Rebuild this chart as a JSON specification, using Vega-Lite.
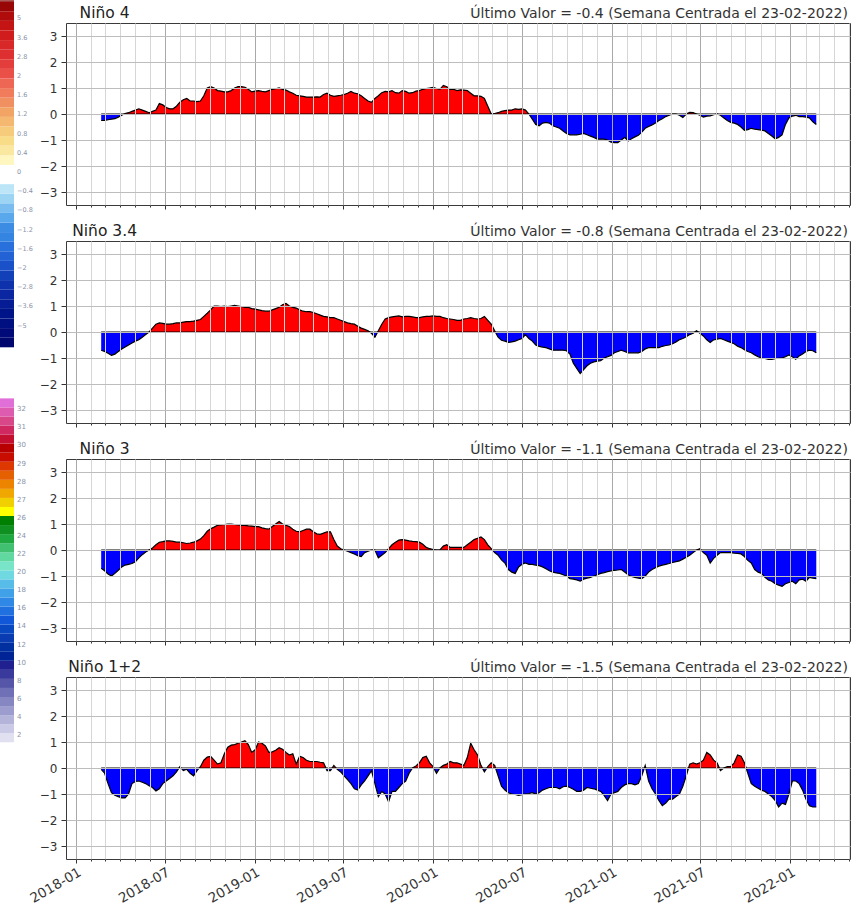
{
"$schema": "https://vega.github.io/schema/vega-lite/v6.json",
"padding": 0,
"background": "white",
"config": {"font": "DejaVu Sans", "view": {"stroke": null}},
"datasets": {
"sst": [
{"d":"2018-02-21","nino4":-0.25,"nino34":-0.7,"nino3":-0.7,"nino12":-0.05},
{"d":"2018-02-28","nino4":-0.25,"nino34":-0.75,"nino3":-0.8,"nino12":-0.2},
{"d":"2018-03-07","nino4":-0.22,"nino34":-0.82,"nino3":-0.92,"nino12":-0.6},
{"d":"2018-03-14","nino4":-0.2,"nino34":-0.9,"nino3":-1.0,"nino12":-0.95},
{"d":"2018-03-21","nino4":-0.18,"nino34":-0.85,"nino3":-0.9,"nino12":-1.05},
{"d":"2018-03-28","nino4":-0.12,"nino34":-0.75,"nino3":-0.78,"nino12":-1.1},
{"d":"2018-04-04","nino4":-0.05,"nino34":-0.65,"nino3":-0.65,"nino12":-1.15},
{"d":"2018-04-11","nino4":0.02,"nino34":-0.58,"nino3":-0.58,"nino12":-1.15},
{"d":"2018-04-18","nino4":0.05,"nino34":-0.5,"nino3":-0.55,"nino12":-1.0},
{"d":"2018-04-25","nino4":0.1,"nino34":-0.42,"nino3":-0.52,"nino12":-0.6},
{"d":"2018-05-02","nino4":0.15,"nino34":-0.35,"nino3":-0.45,"nino12":-0.52},
{"d":"2018-05-09","nino4":0.2,"nino34":-0.3,"nino3":-0.3,"nino12":-0.5},
{"d":"2018-05-16","nino4":0.15,"nino34":-0.2,"nino3":-0.18,"nino12":-0.55},
{"d":"2018-05-23","nino4":0.1,"nino34":-0.1,"nino3":-0.08,"nino12":-0.6},
{"d":"2018-05-30","nino4":0.05,"nino34":0.0,"nino3":0.0,"nino12":-0.68},
{"d":"2018-06-06","nino4":0.1,"nino34":0.15,"nino3":0.08,"nino12":-0.75},
{"d":"2018-06-13","nino4":0.15,"nino34":0.3,"nino3":0.2,"nino12":-0.88},
{"d":"2018-06-20","nino4":0.4,"nino34":0.35,"nino3":0.3,"nino12":-0.8},
{"d":"2018-06-27","nino4":0.35,"nino34":0.33,"nino3":0.32,"nino12":-0.6},
{"d":"2018-07-04","nino4":0.25,"nino34":0.3,"nino3":0.35,"nino12":-0.5},
{"d":"2018-07-11","nino4":0.2,"nino34":0.3,"nino3":0.35,"nino12":-0.4},
{"d":"2018-07-18","nino4":0.2,"nino34":0.32,"nino3":0.33,"nino12":-0.3},
{"d":"2018-07-25","nino4":0.3,"nino34":0.35,"nino3":0.3,"nino12":-0.15},
{"d":"2018-08-01","nino4":0.45,"nino34":0.35,"nino3":0.3,"nino12":0.05},
{"d":"2018-08-08","nino4":0.55,"nino34":0.38,"nino3":0.28,"nino12":-0.1},
{"d":"2018-08-15","nino4":0.6,"nino34":0.4,"nino3":0.25,"nino12":-0.05},
{"d":"2018-08-22","nino4":0.5,"nino34":0.4,"nino3":0.27,"nino12":-0.2},
{"d":"2018-08-29","nino4":0.5,"nino34":0.42,"nino3":0.3,"nino12":-0.3},
{"d":"2018-09-05","nino4":0.48,"nino34":0.45,"nino3":0.35,"nino12":-0.1},
{"d":"2018-09-12","nino4":0.5,"nino34":0.48,"nino3":0.42,"nino12":0.05},
{"d":"2018-09-19","nino4":0.7,"nino34":0.6,"nino3":0.55,"nino12":0.3},
{"d":"2018-09-26","nino4":1.0,"nino34":0.72,"nino3":0.72,"nino12":0.42},
{"d":"2018-10-03","nino4":1.05,"nino34":0.85,"nino3":0.82,"nino12":0.45},
{"d":"2018-10-10","nino4":1.0,"nino34":1.0,"nino3":0.88,"nino12":0.3},
{"d":"2018-10-17","nino4":0.9,"nino34":1.0,"nino3":0.95,"nino12":0.15},
{"d":"2018-10-24","nino4":0.88,"nino34":0.98,"nino3":0.97,"nino12":0.2},
{"d":"2018-10-31","nino4":0.85,"nino34":1.0,"nino3":0.98,"nino12":0.55},
{"d":"2018-11-07","nino4":0.85,"nino34":0.98,"nino3":1.0,"nino12":0.8},
{"d":"2018-11-14","nino4":0.9,"nino34":1.0,"nino3":1.0,"nino12":0.88},
{"d":"2018-11-21","nino4":1.0,"nino34":1.02,"nino3":0.98,"nino12":0.9},
{"d":"2018-11-28","nino4":1.05,"nino34":1.0,"nino3":0.97,"nino12":0.95},
{"d":"2018-12-05","nino4":1.05,"nino34":0.98,"nino3":0.95,"nino12":1.0},
{"d":"2018-12-12","nino4":1.03,"nino34":0.95,"nino3":0.95,"nino12":1.05},
{"d":"2018-12-19","nino4":0.95,"nino34":0.95,"nino3":0.93,"nino12":0.9},
{"d":"2018-12-26","nino4":0.85,"nino34":0.9,"nino3":0.92,"nino12":0.6},
{"d":"2019-01-02","nino4":0.88,"nino34":0.88,"nino3":0.9,"nino12":0.7},
{"d":"2019-01-09","nino4":0.9,"nino34":0.85,"nino3":0.9,"nino12":1.0},
{"d":"2019-01-16","nino4":0.87,"nino34":0.82,"nino3":0.85,"nino12":0.95},
{"d":"2019-01-23","nino4":0.85,"nino34":0.8,"nino3":0.82,"nino12":0.85},
{"d":"2019-01-30","nino4":0.9,"nino34":0.8,"nino3":0.8,"nino12":0.6},
{"d":"2019-02-06","nino4":0.95,"nino34":0.85,"nino3":0.9,"nino12":0.62},
{"d":"2019-02-13","nino4":0.97,"nino34":0.9,"nino3":1.0,"nino12":0.68},
{"d":"2019-02-20","nino4":1.0,"nino34":0.95,"nino3":1.1,"nino12":0.78},
{"d":"2019-02-27","nino4":0.95,"nino34":1.05,"nino3":1.0,"nino12":0.72},
{"d":"2019-03-06","nino4":0.92,"nino34":1.1,"nino3":0.95,"nino12":0.6},
{"d":"2019-03-13","nino4":0.85,"nino34":1.0,"nino3":0.9,"nino12":0.5},
{"d":"2019-03-20","nino4":0.8,"nino34":0.95,"nino3":0.8,"nino12":0.55},
{"d":"2019-03-27","nino4":0.72,"nino34":0.92,"nino3":0.72,"nino12":0.15},
{"d":"2019-04-03","nino4":0.7,"nino34":0.85,"nino3":0.7,"nino12":0.45},
{"d":"2019-04-10","nino4":0.68,"nino34":0.8,"nino3":0.75,"nino12":0.4},
{"d":"2019-04-17","nino4":0.65,"nino34":0.78,"nino3":0.8,"nino12":0.3},
{"d":"2019-04-24","nino4":0.65,"nino34":0.78,"nino3":0.8,"nino12":0.25},
{"d":"2019-05-01","nino4":0.65,"nino34":0.75,"nino3":0.7,"nino12":0.25},
{"d":"2019-05-08","nino4":0.66,"nino34":0.7,"nino3":0.62,"nino12":0.25},
{"d":"2019-05-15","nino4":0.65,"nino34":0.65,"nino3":0.6,"nino12":0.22},
{"d":"2019-05-22","nino4":0.75,"nino34":0.6,"nino3":0.65,"nino12":0.2},
{"d":"2019-05-29","nino4":0.8,"nino34":0.58,"nino3":0.7,"nino12":-0.1},
{"d":"2019-06-05","nino4":0.72,"nino34":0.55,"nino3":0.7,"nino12":-0.1},
{"d":"2019-06-12","nino4":0.68,"nino34":0.55,"nino3":0.4,"nino12":0.1},
{"d":"2019-06-19","nino4":0.7,"nino34":0.5,"nino3":0.15,"nino12":-0.05},
{"d":"2019-06-26","nino4":0.72,"nino34":0.45,"nino3":0.05,"nino12":-0.15},
{"d":"2019-07-03","nino4":0.75,"nino34":0.4,"nino3":0.0,"nino12":-0.3},
{"d":"2019-07-10","nino4":0.8,"nino34":0.35,"nino3":-0.05,"nino12":-0.45},
{"d":"2019-07-17","nino4":0.87,"nino34":0.32,"nino3":-0.1,"nino12":-0.6},
{"d":"2019-07-24","nino4":0.8,"nino34":0.3,"nino3":-0.15,"nino12":-0.8},
{"d":"2019-07-31","nino4":0.78,"nino34":0.22,"nino3":-0.22,"nino12":-0.85},
{"d":"2019-08-07","nino4":0.7,"nino34":0.15,"nino3":-0.25,"nino12":-0.65},
{"d":"2019-08-14","nino4":0.6,"nino34":0.1,"nino3":-0.1,"nino12":-0.5},
{"d":"2019-08-21","nino4":0.5,"nino34":0.05,"nino3":-0.05,"nino12":-0.3},
{"d":"2019-08-28","nino4":0.45,"nino34":-0.05,"nino3":0.0,"nino12":-0.1},
{"d":"2019-09-04","nino4":0.6,"nino34":-0.2,"nino3":0.0,"nino12":-0.6},
{"d":"2019-09-11","nino4":0.7,"nino34":0.05,"nino3":-0.3,"nino12":-1.1},
{"d":"2019-09-18","nino4":0.82,"nino34":0.3,"nino3":-0.2,"nino12":-0.9},
{"d":"2019-09-25","nino4":0.87,"nino34":0.5,"nino3":-0.1,"nino12":-1.0},
{"d":"2019-10-02","nino4":0.85,"nino34":0.55,"nino3":0.05,"nino12":-1.3},
{"d":"2019-10-09","nino4":0.9,"nino34":0.58,"nino3":0.2,"nino12":-0.9},
{"d":"2019-10-16","nino4":0.82,"nino34":0.6,"nino3":0.3,"nino12":-0.9},
{"d":"2019-10-23","nino4":0.8,"nino34":0.62,"nino3":0.38,"nino12":-0.75},
{"d":"2019-10-30","nino4":0.9,"nino34":0.58,"nino3":0.4,"nino12":-0.6},
{"d":"2019-11-06","nino4":0.87,"nino34":0.6,"nino3":0.38,"nino12":-0.5},
{"d":"2019-11-13","nino4":0.8,"nino34":0.6,"nino3":0.35,"nino12":-0.2},
{"d":"2019-11-20","nino4":0.82,"nino34":0.58,"nino3":0.33,"nino12":0.0},
{"d":"2019-11-27","nino4":0.88,"nino34":0.55,"nino3":0.32,"nino12":0.08},
{"d":"2019-12-04","nino4":0.9,"nino34":0.55,"nino3":0.3,"nino12":0.2},
{"d":"2019-12-11","nino4":0.95,"nino34":0.58,"nino3":0.22,"nino12":0.4},
{"d":"2019-12-18","nino4":0.98,"nino34":0.6,"nino3":0.1,"nino12":0.45},
{"d":"2019-12-25","nino4":1.0,"nino34":0.6,"nino3":0.05,"nino12":0.2},
{"d":"2020-01-01","nino4":1.02,"nino34":0.62,"nino3":0.02,"nino12":0.05},
{"d":"2020-01-08","nino4":0.98,"nino34":0.6,"nino3":0.0,"nino12":-0.2},
{"d":"2020-01-15","nino4":0.95,"nino34":0.6,"nino3":0.0,"nino12":0.0},
{"d":"2020-01-22","nino4":1.1,"nino34":0.55,"nino3":0.15,"nino12":0.1},
{"d":"2020-01-29","nino4":1.05,"nino34":0.52,"nino3":0.2,"nino12":0.15},
{"d":"2020-02-05","nino4":0.95,"nino34":0.5,"nino3":0.1,"nino12":0.25},
{"d":"2020-02-12","nino4":0.95,"nino34":0.48,"nino3":0.1,"nino12":0.2},
{"d":"2020-02-19","nino4":0.9,"nino34":0.45,"nino3":0.1,"nino12":0.2},
{"d":"2020-02-26","nino4":0.93,"nino34":0.45,"nino3":0.1,"nino12":0.15},
{"d":"2020-03-04","nino4":0.92,"nino34":0.5,"nino3":0.1,"nino12":0.1},
{"d":"2020-03-11","nino4":0.9,"nino34":0.52,"nino3":0.2,"nino12":0.4},
{"d":"2020-03-18","nino4":0.8,"nino34":0.55,"nino3":0.3,"nino12":0.95},
{"d":"2020-03-25","nino4":0.7,"nino34":0.52,"nino3":0.4,"nino12":0.7},
{"d":"2020-04-01","nino4":0.7,"nino34":0.5,"nino3":0.45,"nino12":0.5},
{"d":"2020-04-08","nino4":0.68,"nino34":0.52,"nino3":0.5,"nino12":0.1},
{"d":"2020-04-15","nino4":0.6,"nino34":0.6,"nino3":0.4,"nino12":-0.15},
{"d":"2020-04-22","nino4":0.3,"nino34":0.45,"nino3":0.2,"nino12":0.05},
{"d":"2020-04-29","nino4":0.0,"nino34":0.3,"nino3":0.05,"nino12":0.2},
{"d":"2020-05-06","nino4":0.02,"nino34":0.05,"nino3":-0.1,"nino12":0.1},
{"d":"2020-05-13","nino4":0.05,"nino34":-0.2,"nino3":-0.2,"nino12":-0.3},
{"d":"2020-05-20","nino4":0.1,"nino34":-0.32,"nino3":-0.38,"nino12":-0.7},
{"d":"2020-05-27","nino4":0.13,"nino34":-0.35,"nino3":-0.5,"nino12":-0.85},
{"d":"2020-06-03","nino4":0.15,"nino34":-0.4,"nino3":-0.75,"nino12":-0.95},
{"d":"2020-06-10","nino4":0.15,"nino34":-0.38,"nino3":-0.85,"nino12":-1.0},
{"d":"2020-06-17","nino4":0.2,"nino34":-0.35,"nino3":-0.9,"nino12":-1.02},
{"d":"2020-06-24","nino4":0.18,"nino34":-0.3,"nino3":-0.65,"nino12":-1.05},
{"d":"2020-07-01","nino4":0.2,"nino34":-0.25,"nino3":-0.55,"nino12":-1.03},
{"d":"2020-07-08","nino4":0.15,"nino34":-0.1,"nino3":-0.5,"nino12":-1.0},
{"d":"2020-07-15","nino4":0.0,"nino34":-0.25,"nino3":-0.55,"nino12":-0.98},
{"d":"2020-07-22","nino4":-0.2,"nino34":-0.35,"nino3":-0.55,"nino12":-0.95},
{"d":"2020-07-29","nino4":-0.4,"nino34":-0.5,"nino3":-0.58,"nino12":-1.0},
{"d":"2020-08-05","nino4":-0.45,"nino34":-0.55,"nino3":-0.6,"nino12":-0.95},
{"d":"2020-08-12","nino4":-0.35,"nino34":-0.58,"nino3":-0.65,"nino12":-0.85},
{"d":"2020-08-19","nino4":-0.32,"nino34":-0.6,"nino3":-0.72,"nino12":-0.8},
{"d":"2020-08-26","nino4":-0.35,"nino34":-0.65,"nino3":-0.8,"nino12":-0.75},
{"d":"2020-09-02","nino4":-0.45,"nino34":-0.7,"nino3":-0.85,"nino12":-0.75},
{"d":"2020-09-09","nino4":-0.5,"nino34":-0.7,"nino3":-0.88,"nino12":-0.75},
{"d":"2020-09-16","nino4":-0.55,"nino34":-0.7,"nino3":-0.9,"nino12":-0.8},
{"d":"2020-09-23","nino4":-0.65,"nino34":-0.7,"nino3":-0.95,"nino12":-0.72},
{"d":"2020-09-30","nino4":-0.75,"nino34":-0.72,"nino3":-1.0,"nino12":-0.7},
{"d":"2020-10-07","nino4":-0.8,"nino34":-0.85,"nino3":-1.1,"nino12":-0.75},
{"d":"2020-10-14","nino4":-0.8,"nino34":-1.2,"nino3":-1.12,"nino12":-0.82},
{"d":"2020-10-21","nino4":-0.8,"nino34":-1.4,"nino3":-1.15,"nino12":-0.9},
{"d":"2020-10-28","nino4":-0.78,"nino34":-1.6,"nino3":-1.2,"nino12":-0.9},
{"d":"2020-11-04","nino4":-0.75,"nino34":-1.45,"nino3":-1.12,"nino12":-0.85},
{"d":"2020-11-11","nino4":-0.8,"nino34":-1.3,"nino3":-1.08,"nino12":-0.75},
{"d":"2020-11-18","nino4":-0.85,"nino34":-1.2,"nino3":-1.05,"nino12":-0.78},
{"d":"2020-11-25","nino4":-0.9,"nino34":-1.15,"nino3":-1.0,"nino12":-0.8},
{"d":"2020-12-02","nino4":-0.97,"nino34":-1.12,"nino3":-0.95,"nino12":-0.85},
{"d":"2020-12-09","nino4":-0.97,"nino34":-1.1,"nino3":-0.9,"nino12":-0.9},
{"d":"2020-12-16","nino4":-0.97,"nino34":-1.0,"nino3":-0.87,"nino12":-1.05},
{"d":"2020-12-23","nino4":-1.0,"nino34":-0.95,"nino3":-0.83,"nino12":-1.25},
{"d":"2020-12-30","nino4":-1.08,"nino34":-0.9,"nino3":-0.8,"nino12":-1.0},
{"d":"2021-01-06","nino4":-1.1,"nino34":-0.8,"nino3":-0.78,"nino12":-0.95},
{"d":"2021-01-13","nino4":-1.1,"nino34":-0.75,"nino3":-0.77,"nino12":-0.9},
{"d":"2021-01-20","nino4":-1.0,"nino34":-0.7,"nino3":-0.75,"nino12":-0.75},
{"d":"2021-01-27","nino4":-0.9,"nino34":-0.75,"nino3":-0.85,"nino12":-0.65},
{"d":"2021-02-03","nino4":-1.04,"nino34":-0.8,"nino3":-0.95,"nino12":-0.6},
{"d":"2021-02-10","nino4":-0.95,"nino34":-0.8,"nino3":-1.02,"nino12":-0.6},
{"d":"2021-02-17","nino4":-0.88,"nino34":-0.8,"nino3":-1.05,"nino12":-0.65},
{"d":"2021-02-24","nino4":-0.82,"nino34":-0.8,"nino3":-1.08,"nino12":-0.6},
{"d":"2021-03-03","nino4":-0.7,"nino34":-0.75,"nino3":-1.1,"nino12":-0.3},
{"d":"2021-03-10","nino4":-0.55,"nino34":-0.65,"nino3":-1.0,"nino12":0.1},
{"d":"2021-03-17","nino4":-0.48,"nino34":-0.6,"nino3":-0.85,"nino12":-0.5},
{"d":"2021-03-24","nino4":-0.42,"nino34":-0.6,"nino3":-0.75,"nino12":-0.8},
{"d":"2021-03-31","nino4":-0.35,"nino34":-0.6,"nino3":-0.68,"nino12":-1.0},
{"d":"2021-04-07","nino4":-0.25,"nino34":-0.6,"nino3":-0.62,"nino12":-1.25},
{"d":"2021-04-14","nino4":-0.18,"nino34":-0.55,"nino3":-0.58,"nino12":-1.45},
{"d":"2021-04-21","nino4":-0.1,"nino34":-0.52,"nino3":-0.55,"nino12":-1.35},
{"d":"2021-04-28","nino4":-0.05,"nino34":-0.5,"nino3":-0.52,"nino12":-1.2},
{"d":"2021-05-05","nino4":0.0,"nino34":-0.45,"nino3":-0.48,"nino12":-1.2},
{"d":"2021-05-12","nino4":0.0,"nino34":-0.38,"nino3":-0.45,"nino12":-1.1},
{"d":"2021-05-19","nino4":-0.05,"nino34":-0.3,"nino3":-0.42,"nino12":-1.0},
{"d":"2021-05-26","nino4":-0.13,"nino34":-0.25,"nino3":-0.35,"nino12":-0.7},
{"d":"2021-06-02","nino4":0.0,"nino34":-0.18,"nino3":-0.28,"nino12":-0.3},
{"d":"2021-06-09","nino4":0.06,"nino34":-0.1,"nino3":-0.2,"nino12":0.15},
{"d":"2021-06-16","nino4":0.05,"nino34":-0.05,"nino3":-0.1,"nino12":0.2},
{"d":"2021-06-23","nino4":0.0,"nino34":0.05,"nino3":0.0,"nino12":0.15},
{"d":"2021-06-30","nino4":-0.05,"nino34":-0.05,"nino3":0.05,"nino12":0.2},
{"d":"2021-07-07","nino4":-0.12,"nino34":-0.15,"nino3":-0.1,"nino12":0.3},
{"d":"2021-07-14","nino4":-0.08,"nino34":-0.3,"nino3":-0.2,"nino12":0.6},
{"d":"2021-07-21","nino4":-0.07,"nino34":-0.4,"nino3":-0.5,"nino12":0.5},
{"d":"2021-07-28","nino4":-0.03,"nino34":-0.3,"nino3":-0.32,"nino12":0.3},
{"d":"2021-08-04","nino4":0.0,"nino34":-0.28,"nino3":-0.2,"nino12":0.2},
{"d":"2021-08-11","nino4":-0.05,"nino34":-0.25,"nino3":-0.1,"nino12":-0.1},
{"d":"2021-08-18","nino4":-0.15,"nino34":-0.3,"nino3":-0.1,"nino12":0.0},
{"d":"2021-08-25","nino4":-0.25,"nino34":-0.35,"nino3":-0.1,"nino12":0.05},
{"d":"2021-09-01","nino4":-0.32,"nino34":-0.4,"nino3":-0.1,"nino12":0.05},
{"d":"2021-09-08","nino4":-0.35,"nino34":-0.45,"nino3":-0.12,"nino12":0.2},
{"d":"2021-09-15","nino4":-0.4,"nino34":-0.55,"nino3":-0.13,"nino12":0.5},
{"d":"2021-09-22","nino4":-0.5,"nino34":-0.6,"nino3":-0.15,"nino12":0.45},
{"d":"2021-09-29","nino4":-0.63,"nino34":-0.68,"nino3":-0.25,"nino12":0.2},
{"d":"2021-10-06","nino4":-0.6,"nino34":-0.75,"nino3":-0.4,"nino12":-0.2},
{"d":"2021-10-13","nino4":-0.55,"nino34":-0.8,"nino3":-0.5,"nino12":-0.6},
{"d":"2021-10-20","nino4":-0.58,"nino34":-0.88,"nino3":-0.75,"nino12":-0.7},
{"d":"2021-10-27","nino4":-0.6,"nino34":-0.95,"nino3":-0.85,"nino12":-0.78},
{"d":"2021-11-03","nino4":-0.62,"nino34":-1.0,"nino3":-0.9,"nino12":-0.85},
{"d":"2021-11-10","nino4":-0.65,"nino34":-1.02,"nino3":-1.05,"nino12":-0.9},
{"d":"2021-11-17","nino4":-0.75,"nino34":-1.05,"nino3":-1.15,"nino12":-1.0},
{"d":"2021-11-24","nino4":-0.85,"nino34":-1.05,"nino3":-1.2,"nino12":-1.1},
{"d":"2021-12-01","nino4":-0.95,"nino34":-1.03,"nino3":-1.3,"nino12":-1.25},
{"d":"2021-12-08","nino4":-0.9,"nino34":-1.0,"nino3":-1.35,"nino12":-1.5},
{"d":"2021-12-15","nino4":-0.8,"nino34":-1.0,"nino3":-1.4,"nino12":-1.35},
{"d":"2021-12-22","nino4":-0.4,"nino34":-0.95,"nino3":-1.3,"nino12":-1.4},
{"d":"2021-12-29","nino4":-0.15,"nino34":-0.88,"nino3":-1.25,"nino12":-1.0},
{"d":"2022-01-05","nino4":-0.08,"nino34":-0.95,"nino3":-1.2,"nino12":-0.5},
{"d":"2022-01-12","nino4":-0.05,"nino34":-1.05,"nino3":-1.3,"nino12":-0.5},
{"d":"2022-01-19","nino4":-0.1,"nino34":-0.92,"nino3":-1.15,"nino12":-0.6},
{"d":"2022-01-26","nino4":-0.1,"nino34":-0.85,"nino3":-1.12,"nino12":-0.85},
{"d":"2022-02-02","nino4":-0.12,"nino34":-0.75,"nino3":-1.2,"nino12":-1.2},
{"d":"2022-02-09","nino4":-0.15,"nino34":-0.7,"nino3":-1.05,"nino12":-1.45},
{"d":"2022-02-16","nino4":-0.3,"nino34":-0.72,"nino3":-1.08,"nino12":-1.5},
{"d":"2022-02-23","nino4":-0.4,"nino34":-0.8,"nino3":-1.1,"nino12":-1.5}
],
"cbA": [
{"i":0,"lo":0,"hi":1},{"i":1,"lo":1,"hi":2},{"i":2,"lo":2,"hi":3},{"i":3,"lo":3,"hi":4},{"i":4,"lo":4,"hi":5},{"i":5,"lo":5,"hi":6},{"i":6,"lo":6,"hi":7},{"i":7,"lo":7,"hi":8},{"i":8,"lo":8,"hi":9},{"i":9,"lo":9,"hi":10},
{"i":10,"lo":10,"hi":11},{"i":11,"lo":11,"hi":12},{"i":12,"lo":12,"hi":13},{"i":13,"lo":13,"hi":14},{"i":14,"lo":14,"hi":15},{"i":15,"lo":15,"hi":16},{"i":16,"lo":16,"hi":17},{"i":17,"lo":17,"hi":18},{"i":18,"lo":18,"hi":19},{"i":19,"lo":19,"hi":20},
{"i":20,"lo":20,"hi":21},{"i":21,"lo":21,"hi":22},{"i":22,"lo":22,"hi":23},{"i":23,"lo":23,"hi":24},{"i":24,"lo":24,"hi":25},{"i":25,"lo":25,"hi":26},{"i":26,"lo":26,"hi":27},{"i":27,"lo":27,"hi":28},{"i":28,"lo":28,"hi":29},{"i":29,"lo":29,"hi":30},
{"i":30,"lo":30,"hi":31},{"i":31,"lo":31,"hi":32},{"i":32,"lo":32,"hi":33},{"i":33,"lo":33,"hi":34},{"i":34,"lo":34,"hi":35},{"i":35,"lo":35,"hi":36},{"i":36,"lo":36,"hi":36.14}
],
"labA": [
{"p":2.25,"t":"−5"},{"p":4.25,"t":"−3.6"},{"p":6.25,"t":"−2.8"},{"p":8.25,"t":"−2"},{"p":10.25,"t":"−1.6"},{"p":12.25,"t":"−1.2"},{"p":14.25,"t":"−0.8"},{"p":16.25,"t":"−0.4"},{"p":18.25,"t":"0"},{"p":20.25,"t":"0.4"},{"p":22.25,"t":"0.8"},{"p":24.25,"t":"1.2"},{"p":26.25,"t":"1.6"},{"p":28.25,"t":"2"},{"p":30.25,"t":"2.8"},{"p":32.25,"t":"3.6"},{"p":34.25,"t":"5"}
],
"cbB": [
{"j":0,"lo":0,"hi":1},{"j":1,"lo":1,"hi":2},{"j":2,"lo":2,"hi":3},{"j":3,"lo":3,"hi":4},{"j":4,"lo":4,"hi":5},{"j":5,"lo":5,"hi":6},{"j":6,"lo":6,"hi":7},{"j":7,"lo":7,"hi":8},{"j":8,"lo":8,"hi":9},{"j":9,"lo":9,"hi":10},
{"j":10,"lo":10,"hi":11},{"j":11,"lo":11,"hi":12},{"j":12,"lo":12,"hi":13},{"j":13,"lo":13,"hi":14},{"j":14,"lo":14,"hi":15},{"j":15,"lo":15,"hi":16},{"j":16,"lo":16,"hi":17},{"j":17,"lo":17,"hi":18},{"j":18,"lo":18,"hi":19},{"j":19,"lo":19,"hi":20},
{"j":20,"lo":20,"hi":21},{"j":21,"lo":21,"hi":22},{"j":22,"lo":22,"hi":23},{"j":23,"lo":23,"hi":24},{"j":24,"lo":24,"hi":25},{"j":25,"lo":25,"hi":26},{"j":26,"lo":26,"hi":27},{"j":27,"lo":27,"hi":28},{"j":28,"lo":28,"hi":29},{"j":29,"lo":29,"hi":30},
{"j":30,"lo":30,"hi":31},{"j":31,"lo":31,"hi":32},{"j":32,"lo":32,"hi":33},{"j":33,"lo":33,"hi":34},{"j":34,"lo":34,"hi":35},{"j":35,"lo":35,"hi":36},{"j":36,"lo":36,"hi":37},{"j":37,"lo":37,"hi":38}
],
"labB": [
{"p":0.8,"t":"2"},{"p":2.8,"t":"4"},{"p":4.8,"t":"6"},{"p":6.8,"t":"8"},{"p":8.8,"t":"10"},{"p":10.8,"t":"12"},{"p":12.8,"t":"14"},{"p":14.8,"t":"16"},{"p":16.8,"t":"18"},{"p":18.8,"t":"20"},{"p":20.8,"t":"22"},{"p":22.8,"t":"24"},{"p":24.8,"t":"26"},{"p":26.8,"t":"27"},{"p":28.8,"t":"28"},{"p":30.8,"t":"29"},{"p":32.8,"t":"30"},{"p":34.8,"t":"31"},{"p":36.8,"t":"32"}
],
"heads": [
{"k":"Niño 4","t":"Último Valor = -0.4 (Semana Centrada el 23-02-2022)"},
{"k":"Niño 3.4","t":"Último Valor = -0.8 (Semana Centrada el 23-02-2022)"},
{"k":"Niño 3","t":"Último Valor = -1.1 (Semana Centrada el 23-02-2022)"},
{"k":"Niño 1+2","t":"Último Valor = -1.5 (Semana Centrada el 23-02-2022)"}
],
"span": [{"s": "2018-02-21", "e": "2022-02-23"}]
},
"bounds": "flush",
"spacing": 52,
"hconcat": [
{
"width": 14,
"height": 836,
"layer": [
{"data": {"name": "cbA"}, "mark": {"type": "rect"}, "encoding": {
"x": {"datum": 0, "type": "quantitative", "scale": {"domain": [0, 1], "nice": false, "zero": false}, "axis": null},
"x2": {"datum": 1},
"y": {"field": "lo", "type": "quantitative", "scale": {"domain": [-53.3, 33.78], "nice": false, "zero": false}, "axis": null},
"y2": {"field": "hi"},
"color": {"field": "i", "type": "ordinal", "legend": null, "scale": {"range": ["#00086e","#000a78","#001080","#00148a","#061c94","#0a26a0","#0e32ac","#1240b8","#1a50c8","#2262d4","#2870dc","#3484e2","#3c8ce4","#5aa8ec","#78bcf0","#9cd4f4","#bce6f8","#ffffff","#ffffff","#fff6c0","#fae8a0","#f8dc88","#f6cc7c","#f4b870","#f2a464","#f09060","#f07c5c","#ee6654","#ea5048","#e43e3c","#de3030","#d82828","#d01c1c","#c41414","#b00c0c","#980606","#800000"]}}}},
{"data": {"name": "labA"}, "mark": {"type": "text", "align": "left", "baseline": "middle", "dx": 3, "fontSize": 6.5, "color": "#8a93a8"}, "encoding": {
"x": {"datum": 1, "type": "quantitative"},
"y": {"field": "p", "type": "quantitative", "scale": {"domain": [-53.3, 33.78], "nice": false, "zero": false}, "axis": null},
"text": {"field": "t"}}},
{"data": {"name": "cbB"}, "mark": {"type": "rect"}, "encoding": {
"x": {"datum": 0, "type": "quantitative"},
"x2": {"datum": 1},
"y": {"field": "lo", "type": "quantitative", "scale": {"domain": [-12.9, 79.48], "nice": false, "zero": false}, "axis": null},
"y2": {"field": "hi"},
"color": {"field": "j", "type": "ordinal", "legend": null, "scale": {"range": ["#e0e0f0","#cacae6","#b4b4da","#9c9cce","#8686c2","#7070b6","#5656a8","#3a3a9c","#202090","#002496","#0030a0","#083cb0","#0848c0","#1058d8","#2070e0","#3088e6","#40a0e8","#58bce8","#70d8e0","#78e4c8","#60d8a0","#40c070","#20a840","#109020","#008000","#ffff00","#f0d000","#f0a800","#ec8400","#e46000","#dc3800","#c80c00","#b80000","#c41030","#d02860","#d84888","#de5cb0","#e070d8"]}}}},
{"data": {"name": "labB"}, "mark": {"type": "text", "align": "left", "baseline": "middle", "dx": 3, "fontSize": 7, "color": "#8a93a8"}, "encoding": {
"x": {"datum": 1, "type": "quantitative"},
"y": {"field": "p", "type": "quantitative", "scale": {"domain": [-12.9, 79.48], "nice": false, "zero": false}, "axis": null},
"text": {"field": "t"}}}
],
"resolve": {"scale": {"y": "independent", "color": "independent"}}
},
{
"bounds": "flush",
"spacing": 36,
"vconcat": [
{
"width": 784, "height": 182,
"view": {"stroke": "#3a3a3a", "strokeWidth": 1},
"data": {"name": "sst"},
"layer": [
{"mark": {"type": "area", "opacity": 1, "fillOpacity": 1, "fill": {"gradient": "linear", "x1": 0, "y1": 0, "x2": 0, "y2": 1, "stops": [{"offset": 0, "color": "#ff0000"}, {"offset": 0.5, "color": "#ff0000"}, {"offset": 0.5, "color": "#0000ff"}, {"offset": 1, "color": "#0000ff"}]}},
"encoding": {
"x": {"field": "d", "type": "temporal", "scale": {"domain": [{"year": 2017, "month": 12, "date": 11}, {"year": 2022, "month": 5, "date": 3}], "nice": false},
"axis": {"title": null, "tickCount": {"interval": "month", "step": 1}, "grid": true, "gridColor": {"condition": {"test": "month(datum.value) % 6 == 0", "value": "#a8a8a8"}, "value": "#d6d6d6"}, "tickColor": "#333", "tickSize": {"condition": {"test": "month(datum.value) % 6 == 0", "value": 4}, "value": 2}, "labels": false, "domain": false, "zindex": 1}},
"y": {"field": "nino4", "type": "quantitative", "scale": {"domain": [-3.5, 3.5], "nice": false, "zero": false},
"axis": {"title": null, "values": [-3, -2, -1, 0, 1, 2, 3], "tickCount": 10, "labelExpr": "datum.value < 0 ? '−' + abs(datum.value) : '' + datum.value", "labelOverlap": false, "grid": true, "gridColor": "#bdbdbd", "tickColor": "#333", "tickSize": 5, "labelFontSize": 12, "labelColor": "#333", "labelPadding": 4, "domain": false, "zindex": 1}},
"y2": {"datum": 0}}},
{"data": {"name": "span"}, "mark": {"type": "rule", "color": "#000", "strokeWidth": 1}, "encoding": {"x": {"field": "s", "type": "temporal"}, "x2": {"field": "e"}, "y": {"datum": 0}}},
{"mark": {"type": "line", "color": "#000", "strokeWidth": 1.2}, "encoding": {"x": {"field": "d", "type": "temporal"}, "y": {"field": "nino4", "type": "quantitative"}}},
{"data": {"name": "heads"}, "transform": [{"filter": "datum.k == 'Niño 4'"}], "layer": [
{"mark": {"type": "text", "align": "center", "baseline": "alphabetic", "dy": -5, "fontSize": 15.5, "color": "#222"}, "encoding": {"x": {"datum": {"year": 2018, "month": 2, "date": 28}, "type": "temporal"}, "y": {"datum": 3.5}, "text": {"field": "k"}}},
{"mark": {"type": "text", "align": "right", "baseline": "alphabetic", "dx": -2, "dy": -5, "fontSize": 14, "color": "#333"}, "encoding": {"x": {"datum": {"year": 2022, "month": 5, "date": 3}, "type": "temporal"}, "y": {"datum": 3.5}, "text": {"field": "t"}}}
]}
]
},
{
"width": 784, "height": 182,
"view": {"stroke": "#3a3a3a", "strokeWidth": 1},
"data": {"name": "sst"},
"layer": [
{"mark": {"type": "area", "opacity": 1, "fillOpacity": 1, "fill": {"gradient": "linear", "x1": 0, "y1": 0, "x2": 0, "y2": 1, "stops": [{"offset": 0, "color": "#ff0000"}, {"offset": 0.4074, "color": "#ff0000"}, {"offset": 0.4074, "color": "#0000ff"}, {"offset": 1, "color": "#0000ff"}]}},
"encoding": {
"x": {"field": "d", "type": "temporal", "scale": {"domain": [{"year": 2017, "month": 12, "date": 11}, {"year": 2022, "month": 5, "date": 3}], "nice": false},
"axis": {"title": null, "tickCount": {"interval": "month", "step": 1}, "grid": true, "gridColor": {"condition": {"test": "month(datum.value) % 6 == 0", "value": "#a8a8a8"}, "value": "#d6d6d6"}, "tickColor": "#333", "tickSize": {"condition": {"test": "month(datum.value) % 6 == 0", "value": 4}, "value": 2}, "labels": false, "domain": false, "zindex": 1}},
"y": {"field": "nino34", "type": "quantitative", "scale": {"domain": [-3.5, 3.5], "nice": false, "zero": false},
"axis": {"title": null, "values": [-3, -2, -1, 0, 1, 2, 3], "tickCount": 10, "labelExpr": "datum.value < 0 ? '−' + abs(datum.value) : '' + datum.value", "labelOverlap": false, "grid": true, "gridColor": "#bdbdbd", "tickColor": "#333", "tickSize": 5, "labelFontSize": 12, "labelColor": "#333", "labelPadding": 4, "domain": false, "zindex": 1}},
"y2": {"datum": 0}}},
{"data": {"name": "span"}, "mark": {"type": "rule", "color": "#000", "strokeWidth": 1}, "encoding": {"x": {"field": "s", "type": "temporal"}, "x2": {"field": "e"}, "y": {"datum": 0}}},
{"mark": {"type": "line", "color": "#000", "strokeWidth": 1.2}, "encoding": {"x": {"field": "d", "type": "temporal"}, "y": {"field": "nino34", "type": "quantitative"}}},
{"data": {"name": "heads"}, "transform": [{"filter": "datum.k == 'Niño 3.4'"}], "layer": [
{"mark": {"type": "text", "align": "center", "baseline": "alphabetic", "dy": -5, "fontSize": 15.5, "color": "#222"}, "encoding": {"x": {"datum": {"year": 2018, "month": 2, "date": 28}, "type": "temporal"}, "y": {"datum": 3.5}, "text": {"field": "k"}}},
{"mark": {"type": "text", "align": "right", "baseline": "alphabetic", "dx": -2, "dy": -5, "fontSize": 14, "color": "#333"}, "encoding": {"x": {"datum": {"year": 2022, "month": 5, "date": 3}, "type": "temporal"}, "y": {"datum": 3.5}, "text": {"field": "t"}}}
]}
]
},
{
"width": 784, "height": 182,
"view": {"stroke": "#3a3a3a", "strokeWidth": 1},
"data": {"name": "sst"},
"layer": [
{"mark": {"type": "area", "opacity": 1, "fillOpacity": 1, "fill": {"gradient": "linear", "x1": 0, "y1": 0, "x2": 0, "y2": 1, "stops": [{"offset": 0, "color": "#ff0000"}, {"offset": 0.44, "color": "#ff0000"}, {"offset": 0.44, "color": "#0000ff"}, {"offset": 1, "color": "#0000ff"}]}},
"encoding": {
"x": {"field": "d", "type": "temporal", "scale": {"domain": [{"year": 2017, "month": 12, "date": 11}, {"year": 2022, "month": 5, "date": 3}], "nice": false},
"axis": {"title": null, "tickCount": {"interval": "month", "step": 1}, "grid": true, "gridColor": {"condition": {"test": "month(datum.value) % 6 == 0", "value": "#a8a8a8"}, "value": "#d6d6d6"}, "tickColor": "#333", "tickSize": {"condition": {"test": "month(datum.value) % 6 == 0", "value": 4}, "value": 2}, "labels": false, "domain": false, "zindex": 1}},
"y": {"field": "nino3", "type": "quantitative", "scale": {"domain": [-3.5, 3.5], "nice": false, "zero": false},
"axis": {"title": null, "values": [-3, -2, -1, 0, 1, 2, 3], "tickCount": 10, "labelExpr": "datum.value < 0 ? '−' + abs(datum.value) : '' + datum.value", "labelOverlap": false, "grid": true, "gridColor": "#bdbdbd", "tickColor": "#333", "tickSize": 5, "labelFontSize": 12, "labelColor": "#333", "labelPadding": 4, "domain": false, "zindex": 1}},
"y2": {"datum": 0}}},
{"data": {"name": "span"}, "mark": {"type": "rule", "color": "#000", "strokeWidth": 1}, "encoding": {"x": {"field": "s", "type": "temporal"}, "x2": {"field": "e"}, "y": {"datum": 0}}},
{"mark": {"type": "line", "color": "#000", "strokeWidth": 1.2}, "encoding": {"x": {"field": "d", "type": "temporal"}, "y": {"field": "nino3", "type": "quantitative"}}},
{"data": {"name": "heads"}, "transform": [{"filter": "datum.k == 'Niño 3'"}], "layer": [
{"mark": {"type": "text", "align": "center", "baseline": "alphabetic", "dy": -5, "fontSize": 15.5, "color": "#222"}, "encoding": {"x": {"datum": {"year": 2018, "month": 2, "date": 28}, "type": "temporal"}, "y": {"datum": 3.5}, "text": {"field": "k"}}},
{"mark": {"type": "text", "align": "right", "baseline": "alphabetic", "dx": -2, "dy": -5, "fontSize": 14, "color": "#333"}, "encoding": {"x": {"datum": {"year": 2022, "month": 5, "date": 3}, "type": "temporal"}, "y": {"datum": 3.5}, "text": {"field": "t"}}}
]}
]
},
{
"width": 784, "height": 182,
"view": {"stroke": "#3a3a3a", "strokeWidth": 1},
"data": {"name": "sst"},
"layer": [
{"mark": {"type": "area", "opacity": 1, "fillOpacity": 1, "fill": {"gradient": "linear", "x1": 0, "y1": 0, "x2": 0, "y2": 1, "stops": [{"offset": 0, "color": "#ff0000"}, {"offset": 0.4118, "color": "#ff0000"}, {"offset": 0.4118, "color": "#0000ff"}, {"offset": 1, "color": "#0000ff"}]}},
"encoding": {
"x": {"field": "d", "type": "temporal", "scale": {"domain": [{"year": 2017, "month": 12, "date": 11}, {"year": 2022, "month": 5, "date": 3}], "nice": false},
"axis": {"title": null, "tickCount": {"interval": "month", "step": 1}, "grid": true, "gridColor": {"condition": {"test": "month(datum.value) % 6 == 0", "value": "#a8a8a8"}, "value": "#d6d6d6"}, "tickColor": "#333", "tickSize": {"condition": {"test": "month(datum.value) % 6 == 0", "value": 4}, "value": 2}, "labels": true, "labelExpr": "month(datum.value) % 6 == 0 ? timeFormat(datum.value, '%Y-%m') : ''", "labelAngle": -30, "labelAlign": "right", "labelBaseline": "top", "labelFontSize": 13.5, "labelColor": "#333", "labelOverlap": false, "labelFlush": false, "labelPadding": 2, "domain": false, "zindex": 1}},
"y": {"field": "nino12", "type": "quantitative", "scale": {"domain": [-3.5, 3.5], "nice": false, "zero": false},
"axis": {"title": null, "values": [-3, -2, -1, 0, 1, 2, 3], "tickCount": 10, "labelExpr": "datum.value < 0 ? '−' + abs(datum.value) : '' + datum.value", "labelOverlap": false, "grid": true, "gridColor": "#bdbdbd", "tickColor": "#333", "tickSize": 5, "labelFontSize": 12, "labelColor": "#333", "labelPadding": 4, "domain": false, "zindex": 1}},
"y2": {"datum": 0}}},
{"data": {"name": "span"}, "mark": {"type": "rule", "color": "#000", "strokeWidth": 1}, "encoding": {"x": {"field": "s", "type": "temporal"}, "x2": {"field": "e"}, "y": {"datum": 0}}},
{"mark": {"type": "line", "color": "#000", "strokeWidth": 1.2}, "encoding": {"x": {"field": "d", "type": "temporal"}, "y": {"field": "nino12", "type": "quantitative"}}},
{"data": {"name": "heads"}, "transform": [{"filter": "datum.k == 'Niño 1+2'"}], "layer": [
{"mark": {"type": "text", "align": "center", "baseline": "alphabetic", "dy": -5, "fontSize": 15.5, "color": "#222"}, "encoding": {"x": {"datum": {"year": 2018, "month": 2, "date": 28}, "type": "temporal"}, "y": {"datum": 3.5}, "text": {"field": "k"}}},
{"mark": {"type": "text", "align": "right", "baseline": "alphabetic", "dx": -2, "dy": -5, "fontSize": 14, "color": "#333"}, "encoding": {"x": {"datum": {"year": 2022, "month": 5, "date": 3}, "type": "temporal"}, "y": {"datum": 3.5}, "text": {"field": "t"}}}
]}
]
}
]
}
]
}
